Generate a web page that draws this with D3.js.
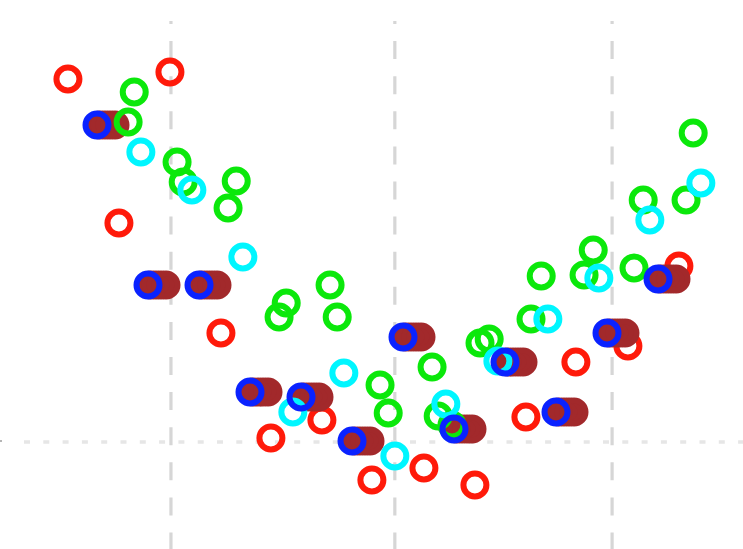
<!DOCTYPE html>
<html>
<head>
<meta charset="utf-8">
<script src="https://cdn.jsdelivr.net/npm/d3@7"></script>
<style>
  html, body { margin: 0; padding: 0; background: #fff; }
  svg { display: block; }
</style>
</head>
<body>
<svg id="chart" width="743" height="549"></svg>
<script>
// Reference grid positions
const gridX = [2.45, 6.84, 11.10];
const gridY = [0];

// Red series
const redX = [0.43, 1.43, 2.43, 3.43, 4.41, 5.41, 6.39, 7.41, 8.41, 9.41, 10.39, 11.41, 12.41];
const redY = [3.63, 2.19, 3.70, 1.09, 0.04, 0.22, -0.38, -0.26, -0.43, 0.25, 0.80, 0.96, 1.76];

// Green series
const greenX = [1.61, 1.73, 2.57, 2.69, 3.57, 3.73, 4.57, 4.71, 5.57, 5.71, 6.55, 6.71,
                7.57, 7.69, 7.96, 8.51, 8.69, 9.51, 9.71, 10.55, 10.73, 11.53, 11.71, 12.55, 12.69];
const greenY = [3.20, 3.50, 2.80, 2.60, 2.34, 2.61, 1.25, 1.39, 1.57, 1.25, 0.57, 0.29,
                0.75, 0.26, 0.17, 0.99, 1.03, 1.23, 1.66, 1.67, 1.92, 1.74, 2.42, 2.42, 3.09];

// Cyan series
const cyanX = [1.86, 2.86, 3.86, 4.84, 5.84, 6.84, 7.84, 8.86, 9.84, 10.84, 11.84, 12.84];
const cyanY = [2.90, 2.52, 1.85, 0.30, 0.69, -0.14, 0.38, 0.81, 1.23, 1.64, 2.22, 2.59];

// Blue series (drawn with a brown trail behind each marker)
const blueX = [1, 2, 3, 4, 5, 6, 7, 8, 9, 10, 11, 12];
const blueY = [3.17, 1.57, 1.57, 0.50, 0.45, 0.01, 1.05, 0.13, 0.80, 0.30, 1.09, 1.63];

const W = 743, H = 549;
const svg = d3.select("#chart");

const x = d3.scaleLinear().domain([0, 12]).range([46, 658]);
const y = d3.scaleLinear().domain([0, 4]).range([442, 42]);

const R = 11.5, SW = 6;
const plotTop = 21;

// grid lines
svg.append("g").selectAll("line.vx").data(gridX).join("line")
  .attr("x1", d => x(d)).attr("x2", d => x(d))
  .attr("y1", plotTop).attr("y2", H)
  .attr("stroke", "#d6d6d6").attr("stroke-width", 3.2)
  .attr("stroke-dasharray", "18 17.1").attr("stroke-dashoffset", 15);

svg.append("g").selectAll("line.hy").data(gridY).join("line")
  .attr("x1", 24).attr("x2", W)
  .attr("y1", d => y(d)).attr("y2", d => y(d))
  .attr("stroke", "#e6e6e6").attr("stroke-width", 3.5)
  .attr("stroke-dasharray", "6 13.3");

// small axis tick at the left edge
svg.append("g").selectAll("line.tk").data(gridY).join("line")
  .attr("x1", 0).attr("x2", 2)
  .attr("y1", d => y(d) - 1).attr("y2", d => y(d) - 1)
  .attr("stroke", "#b5b5b5").attr("stroke-width", 2);

function rings(xs, ys, color, dx = 0) {
  svg.append("g").selectAll("circle").data(d3.zip(xs, ys)).join("circle")
    .attr("cx", d => x(d[0]) + dx).attr("cy", d => y(d[1]))
    .attr("r", R).attr("fill", "none")
    .attr("stroke", color).attr("stroke-width", SW);
}

rings(redX, redY, "#ff1a0a");
// brown trail rings, offset to the right of each blue marker
[3, 8, 13, 18].forEach(off => rings(blueX, blueY, "#a2292b", off));
rings(greenX, greenY, "#0be80b");
rings(cyanX, cyanY, "#00f6ff");
rings(blueX, blueY, "#0a22ff");
</script>
</body>
</html>
